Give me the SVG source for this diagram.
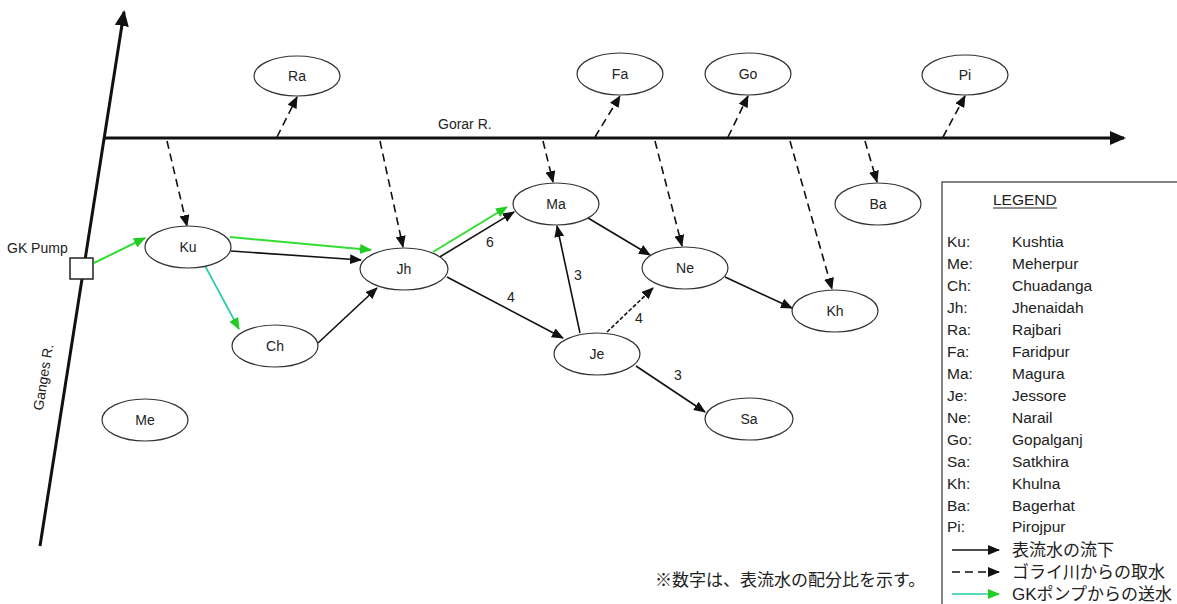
<svg xmlns="http://www.w3.org/2000/svg" width="1177" height="604" viewBox="0 0 1177 604">
  <style>
    .node ellipse { fill: #ffffff; stroke: #333333; stroke-width: 1.2; }
    .node text { font-family: "Liberation Sans", Arial, sans-serif; font-size: 14px; fill: #222222; text-anchor: middle; }
    .flow { stroke: #111111; stroke-width: 1.6; fill: none; marker-end: url(#ahBlack); }
    .intake { stroke: #111111; stroke-width: 1.6; fill: none; stroke-dasharray: 8,5; marker-end: url(#ahBlack); }
    .pump { stroke: #33dd33; stroke-width: 2; fill: none; marker-end: url(#ahGreen); }
    .pumpTeal { stroke: #22ccaa; stroke-width: 1.6; fill: none; marker-end: url(#ahGreen); }
    .river { stroke: #111111; stroke-width: 3; fill: none; marker-end: url(#ahRiver); }
    .lbl { font-family: "Liberation Sans", Arial, sans-serif; font-size: 14px; fill: #222222; }
    .num { font-family: "Liberation Sans", Arial, sans-serif; font-size: 14px; fill: #222222; text-anchor: middle; }
    .leg { font-family: "Liberation Sans", Arial, sans-serif; font-size: 15.5px; fill: #222222; }
    .jp { font-family: "Liberation Sans", "Noto Sans CJK JP", sans-serif; font-size: 17px; fill: #222222; }
  </style>
  <defs>
    <marker id="ahBlack" markerUnits="userSpaceOnUse" markerWidth="12" markerHeight="10" refX="11" refY="5" orient="auto">
      <path d="M0,0 L12,5 L0,10 z" fill="#111111"/>
    </marker>
    <marker id="ahGreen" markerUnits="userSpaceOnUse" markerWidth="12" markerHeight="10" refX="11" refY="5" orient="auto">
      <path d="M0,0 L12,5 L0,10 z" fill="#22cc22"/>
    </marker>
    <marker id="ahRiver" markerUnits="userSpaceOnUse" markerWidth="16" markerHeight="14" refX="14" refY="7" orient="auto">
      <path d="M0,0 L16,7 L0,14 z" fill="#111111"/>
    </marker>
  </defs>

  <rect x="0" y="0" width="1177" height="604" fill="#ffffff"/>

  <!-- rivers -->
  <g id="rivers">
    <line class="river" x1="40" y1="546" x2="124" y2="12"/>
    <line class="river" x1="103" y1="138" x2="1124" y2="138"/>
    <text class="lbl" x="438" y="129">Gorar R.</text>
    <text class="lbl" transform="translate(48,378) rotate(-81)" text-anchor="middle">Ganges R.</text>
  </g>

  <!-- GK pump station -->
  <g id="gk-pump">
    <rect x="70" y="258" width="23" height="21" fill="#ffffff" stroke="#222222" stroke-width="1.5"/>
    <text class="lbl" x="7" y="253">GK Pump</text>
  </g>

  <!-- connectors -->
  <g id="connectors">
    <!-- intakes from the Gorai -->
    <line class="intake" x1="167" y1="141" x2="187" y2="226"/>
    <line class="intake" x1="380" y1="141" x2="403" y2="247"/>
    <line class="intake" x1="543" y1="141" x2="553" y2="182"/>
    <line class="intake" x1="655" y1="141" x2="682" y2="246"/>
    <line class="intake" x1="790" y1="141" x2="832" y2="289"/>
    <line class="intake" x1="865" y1="141" x2="877" y2="182"/>
    <line class="intake" x1="277" y1="137" x2="297" y2="97"/>
    <line class="intake" x1="595" y1="137" x2="620" y2="96"/>
    <line class="intake" x1="728" y1="137" x2="748" y2="96"/>
    <line class="intake" x1="943" y1="137" x2="965" y2="96"/>

    <!-- surface flow -->
    <line class="flow" x1="231" y1="251" x2="361" y2="260"/>
    <line class="flow" x1="318" y1="343" x2="377" y2="288"/>
    <line class="flow" x1="438" y1="258" x2="514" y2="212"/>
    <line class="flow" x1="447" y1="277" x2="563" y2="338"/>
    <line class="flow" x1="580" y1="333" x2="557" y2="226"/>
    <line class="flow" x1="588" y1="218" x2="650" y2="255"/>
    <line class="flow" x1="725" y1="277" x2="792" y2="308"/>
    <line class="flow" x1="636" y1="366" x2="705" y2="412"/>
    <line class="flow" x1="607" y1="332" x2="653" y2="288" stroke-dasharray="4,2"/>

    <!-- GK pump supply -->
    <line class="pump" x1="94" y1="263" x2="145" y2="238"/>
    <line class="pump" x1="230" y1="237" x2="371" y2="250"/>
    <line class="pump" x1="433" y1="252" x2="507" y2="207"/>
    <line class="pumpTeal" x1="203" y1="262" x2="239" y2="329"/>

    <!-- distribution ratios -->
    <text class="num" x="490" y="247">6</text>
    <text class="num" x="511" y="302">4</text>
    <text class="num" x="578" y="280">3</text>
    <text class="num" x="639" y="323">4</text>
    <text class="num" x="678" y="380">3</text>
  </g>

  <!-- districts -->
  <g id="node-ra" class="node"><ellipse cx="297" cy="76" rx="43" ry="20"/><text x="297" y="81">Ra</text></g>
  <g id="node-fa" class="node"><ellipse cx="620" cy="74" rx="43" ry="21"/><text x="620" y="79">Fa</text></g>
  <g id="node-go" class="node"><ellipse cx="748" cy="74" rx="43" ry="21"/><text x="748" y="79">Go</text></g>
  <g id="node-pi" class="node"><ellipse cx="965" cy="75" rx="43" ry="20"/><text x="965" y="80">Pi</text></g>
  <g id="node-ku" class="node"><ellipse cx="188" cy="247" rx="43" ry="21"/><text x="188" y="252">Ku</text></g>
  <g id="node-jh" class="node"><ellipse cx="404" cy="269" rx="44" ry="21"/><text x="404" y="274">Jh</text></g>
  <g id="node-ch" class="node"><ellipse cx="275" cy="346" rx="43" ry="21"/><text x="275" y="351">Ch</text></g>
  <g id="node-ma" class="node"><ellipse cx="556" cy="204" rx="43" ry="21"/><text x="556" y="209">Ma</text></g>
  <g id="node-ne" class="node"><ellipse cx="685" cy="268" rx="43" ry="21"/><text x="685" y="273">Ne</text></g>
  <g id="node-kh" class="node"><ellipse cx="835" cy="311" rx="43" ry="21"/><text x="835" y="316">Kh</text></g>
  <g id="node-je" class="node"><ellipse cx="597" cy="354" rx="43" ry="21"/><text x="597" y="359">Je</text></g>
  <g id="node-sa" class="node"><ellipse cx="749" cy="419" rx="44" ry="21"/><text x="749" y="424">Sa</text></g>
  <g id="node-me" class="node"><ellipse cx="145" cy="420" rx="43" ry="21"/><text x="145" y="425">Me</text></g>
  <g id="node-ba" class="node"><ellipse cx="878" cy="204" rx="43" ry="21"/><text x="878" y="209">Ba</text></g>

  <!-- legend -->
  <g id="legend">
    <rect x="942" y="182" width="245" height="430" fill="#ffffff" stroke="#444444" stroke-width="1.3"/>
    <text class="leg" x="993" y="205">LEGEND</text>
    <line x1="993" y1="208" x2="1057" y2="208" stroke="#222222" stroke-width="1"/>
    <g class="leg">
      <text x="947" y="247">Ku:</text><text x="1012" y="247">Kushtia</text>
      <text x="947" y="269">Me:</text><text x="1012" y="269">Meherpur</text>
      <text x="947" y="291">Ch:</text><text x="1012" y="291">Chuadanga</text>
      <text x="947" y="313">Jh:</text><text x="1012" y="313">Jhenaidah</text>
      <text x="947" y="335">Ra:</text><text x="1012" y="335">Rajbari</text>
      <text x="947" y="357">Fa:</text><text x="1012" y="357">Faridpur</text>
      <text x="947" y="379">Ma:</text><text x="1012" y="379">Magura</text>
      <text x="947" y="401">Je:</text><text x="1012" y="401">Jessore</text>
      <text x="947" y="423">Ne:</text><text x="1012" y="423">Narail</text>
      <text x="947" y="445">Go:</text><text x="1012" y="445">Gopalganj</text>
      <text x="947" y="467">Sa:</text><text x="1012" y="467">Satkhira</text>
      <text x="947" y="489">Kh:</text><text x="1012" y="489">Khulna</text>
      <text x="947" y="511">Ba:</text><text x="1012" y="511">Bagerhat</text>
      <text x="947" y="532">Pi:</text><text x="1012" y="532">Pirojpur</text>
    </g>
    <line class="flow" x1="952" y1="550" x2="999" y2="550"/>
    <line class="intake" x1="952" y1="572" x2="999" y2="572"/>
    <line class="pumpTeal" x1="952" y1="594" x2="999" y2="594"/>
    <text class="jp" x="1012" y="556">表流水の流下</text>
    <text class="jp" x="1012" y="578">ゴライ川からの取水</text>
    <text class="jp" x="1012" y="600">GKポンプからの送水</text>
  </g>

  <!-- footnote -->
  <text id="note" class="jp" x="655" y="586">※数字は、表流水の配分比を示す。</text>
</svg>
